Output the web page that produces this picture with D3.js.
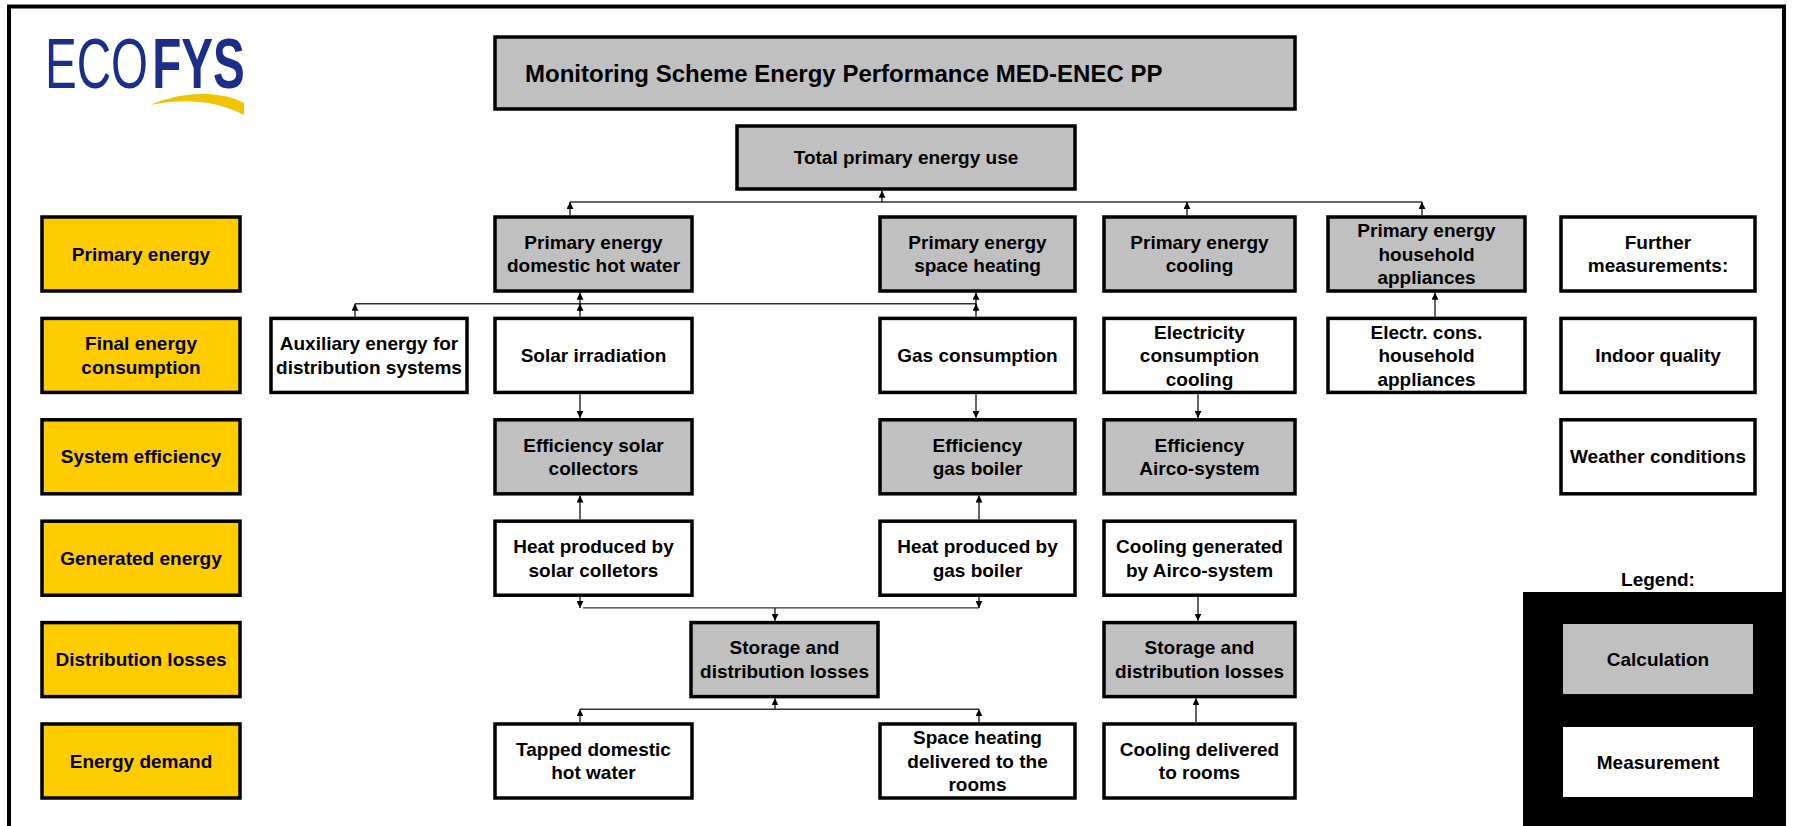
<!DOCTYPE html>
<html><head><meta charset="utf-8">
<script src="https://cdn.jsdelivr.net/npm/d3@7"></script>
<style>
body{margin:0;background:#fff}
svg{display:block}
text{font-family:"Liberation Sans",Arial,Helvetica,sans-serif;font-weight:bold;fill:#000}
</style>
</head><body>
<svg id="chart" width="1794" height="826"></svg>
<script>
// ---------------- DATA ----------------
const chartTitle = "Monitoring Scheme Energy Performance MED-ENEC PP";
const logoParts = ["ECO", "FYS"];
const rowLabels = ["Primary energy", "Final energy\nconsumption", "System efficiency",
  "Generated energy", "Distribution losses", "Energy demand"];
const columnKeys = ["category", "aux", "dhw", "storage", "sh", "cool", "hh", "extra"];
const totalBox = ["total", "Total primary energy use"];
// [id, row index, column, label]
const calculationBoxes = [
  ["pe_dhw", 0, "dhw", "Primary energy\ndomestic hot water"],
  ["pe_sh", 0, "sh", "Primary energy\nspace heating"],
  ["pe_cool", 0, "cool", "Primary energy\ncooling"],
  ["pe_hh", 0, "hh", "Primary energy\nhousehold\nappliances"],
  ["eff_solar", 2, "dhw", "Efficiency solar\ncollectors"],
  ["eff_gas", 2, "sh", "Efficiency\ngas boiler"],
  ["eff_airco", 2, "cool", "Efficiency\nAirco-system"],
  ["stor1", 4, "storage", "Storage and\ndistribution losses"],
  ["stor2", 4, "cool", "Storage and\ndistribution losses"]
];
const measurementBoxes = [
  ["further", 0, "extra", "Further\nmeasurements:"],
  ["aux", 1, "aux", "Auxiliary energy for\ndistribution systems"],
  ["solar", 1, "dhw", "Solar irradiation"],
  ["gas", 1, "sh", "Gas consumption"],
  ["elec_cool", 1, "cool", "Electricity\nconsumption\ncooling"],
  ["elec_hh", 1, "hh", "Electr. cons.\nhousehold\nappliances"],
  ["indoor", 1, "extra", "Indoor quality"],
  ["weather", 2, "extra", "Weather conditions"],
  ["heat_solar", 3, "dhw", "Heat produced by\nsolar colletors"],
  ["heat_gas", 3, "sh", "Heat produced by\ngas boiler"],
  ["cool_gen", 3, "cool", "Cooling generated\nby Airco-system"],
  ["tapped", 5, "dhw", "Tapped domestic\nhot water"],
  ["sh_deliv", 5, "sh", "Space heating\ndelivered to the\nrooms"],
  ["cool_deliv", 5, "cool", "Cooling delivered\nto rooms"]
];
// [id, gap below row index (-1 = below total box), from lane, to lane]
const buses = [
  ["bus1", -1, "dhwTop", "hhTop"],
  ["bus2", 0, "aux", "sh"],
  ["bus3", 3, "dhwBus", "shLow"],
  ["bus4", 4, "dhw", "shLow"]
];
// [from, to, lane, passes-through bus]
const arrows = [
  ["pe_dhw", "bus1", "dhwTop"],
  ["bus1", "total", "total"],
  ["pe_cool", "bus1", "coolTop"],
  ["pe_hh", "bus1", "hhTop"],
  ["aux", "bus2", "aux"],
  ["solar", "pe_dhw", "dhw", "bus2"],
  ["gas", "pe_sh", "sh", "bus2"],
  ["solar", "eff_solar", "dhw"],
  ["heat_solar", "eff_solar", "dhw"],
  ["gas", "eff_gas", "sh"],
  ["heat_gas", "eff_gas", "shLow"],
  ["elec_cool", "eff_airco", "cool"],
  ["elec_hh", "pe_hh", "hh"],
  ["heat_solar", "bus3", "dhw"],
  ["heat_gas", "bus3", "shLow"],
  ["bus3", "stor1", "storage"],
  ["cool_gen", "stor2", "cool"],
  ["tapped", "bus4", "dhw"],
  ["sh_deliv", "bus4", "shLow"],
  ["bus4", "stor1", "storage"],
  ["cool_deliv", "stor2", "coolLow"]
];
const legendTitle = "Legend:";
const legendLabels = ["Calculation", "Measurement"];

// ---------------- LAYOUT ----------------
const svg = d3.select("#chart");
const COL = {cat: "#FFCC00", calc: "#C0C0C0", meas: "#FFFFFF"};
const FS = 19, LH = 23.5, BW = 3.5;

const y = d3.scaleBand().domain(d3.range(rowLabels.length)).range([217, 798]).paddingInner(0.27).paddingOuter(0);
const xCol = d3.scaleOrdinal().domain(columnKeys).range([42, 271, 495, 691, 880, 1104, 1328, 1561]);
const wCol = d3.scaleOrdinal().domain(columnKeys).range([198, 196, 197, 187, 195, 191, 197, 194]);
const lane = d3.scaleOrdinal()
  .domain(["aux", "dhwTop", "dhw", "dhwBus", "storage", "total", "sh", "shLow", "coolTop", "coolLow", "cool", "hhTop", "hh"])
  .range([355, 570, 580, 583, 775, 882, 976, 979, 1187, 1196, 1198, 1422, 1435]);

// frame
svg.append("path").attr("d", "M9,840V6.5H1784V840").attr("fill", "none").attr("stroke", "#000").attr("stroke-width", 4);

// logo
const logo = svg.append("g");
logo.append("path")
  .attr("d", "M150,105 C176,94 214,88 244,103 L244,115 C216,100 182,98 150,105 Z")
  .attr("fill", "#F2C300");
const logoText = logo.append("text").attr("transform", "translate(45,88) scale(0.68,1)")
  .attr("font-size", 70).style("fill", "#1C2E8C");
logoText.append("tspan").style("font-weight", "normal").text(logoParts[0]);
logoText.append("tspan").attr("dx", 6).style("font-weight", "bold").text(logoParts[1]);

// title
svg.append("rect").attr("x", 495).attr("y", 37).attr("width", 800).attr("height", 72)
  .attr("fill", COL.calc).attr("stroke", "#000").attr("stroke-width", BW);
svg.append("text").attr("x", 525).attr("y", 82).attr("font-size", 24).text(chartTitle);

// node geometry
const nodes = new Map();
nodes.set(totalBox[0], {x: 737, y: 126, w: 338, h: 63, label: totalBox[1], fill: COL.calc});
rowLabels.forEach((l, i) => nodes.set("row" + i, {x: xCol("category"), y: y(i), w: wCol("category"), h: y.bandwidth(), label: l, fill: COL.cat}));
calculationBoxes.forEach(([id, r, c, l]) => nodes.set(id, {x: xCol(c), y: y(r), w: wCol(c), h: y.bandwidth(), label: l, fill: COL.calc}));
measurementBoxes.forEach(([id, r, c, l]) => nodes.set(id, {x: xCol(c), y: y(r), w: wCol(c), h: y.bandwidth(), label: l, fill: COL.meas}));

const busY = new Map();
buses.forEach(([id, gap]) => {
  const upperBottom = gap < 0 ? nodes.get("total").y + nodes.get("total").h : y(gap) + y.bandwidth();
  const lowerTop = y(gap + 1);
  busY.set(id, (upperBottom + lowerTop) / 2 - 1);
});

function drawLabel(g, cx, cy, label, size) {
  const lines = label.split("\n");
  lines.forEach((t, i) => g.append("text")
    .attr("x", cx).attr("y", cy + (i - (lines.length - 1) / 2) * LH)
    .attr("dy", "0.35em").attr("text-anchor", "middle").attr("font-size", size).text(t));
}

// boxes
const boxG = svg.append("g");
nodes.forEach((n) => {
  boxG.append("rect").attr("x", n.x).attr("y", n.y).attr("width", n.w).attr("height", n.h)
    .attr("fill", n.fill).attr("stroke", "#000").attr("stroke-width", BW);
  drawLabel(boxG, n.x + n.w / 2, n.y + n.h / 2, n.label, FS);
});

// arrow marker
svg.append("defs").append("marker").attr("id", "ah").attr("viewBox", "0 0 7 7")
  .attr("refX", 7).attr("refY", 3.5).attr("markerWidth", 7).attr("markerHeight", 7)
  .attr("markerUnits", "userSpaceOnUse").attr("orient", "auto")
  .append("path").attr("d", "M0,0L7,3.5L0,7Z").attr("fill", "#000");

const linkG = svg.append("g");
// buses
buses.forEach(([id, gap, a, b]) => {
  linkG.append("line").attr("x1", lane(a)).attr("x2", lane(b)).attr("y1", busY.get(id)).attr("y2", busY.get(id))
    .attr("stroke", "#333").attr("stroke-width", 1.4);
});

function ends(id) {
  if (busY.has(id)) { const v = busY.get(id); return {top: v, bottom: v, cy: v}; }
  const n = nodes.get(id);
  return {top: n.y - BW / 2, bottom: n.y + n.h + BW / 2, cy: n.y + n.h / 2};
}
arrows.forEach(([from, to, ln, via]) => {
  const A = ends(from), B = ends(to), x = lane(ln);
  const up = B.cy < A.cy;
  const y1 = up ? A.top : A.bottom, y2 = up ? B.bottom : B.top;
  linkG.append("line").attr("x1", x).attr("x2", x).attr("y1", y1).attr("y2", y2)
    .attr("stroke", "#111").attr("stroke-width", 1.3).attr("marker-end", "url(#ah)");
  if (via) {
    const vy = busY.get(via);
    linkG.append("line").attr("x1", x).attr("x2", x).attr("y1", vy + (up ? 8 : -8)).attr("y2", vy)
      .attr("stroke", "#111").attr("stroke-width", 1.3).attr("marker-end", "url(#ah)");
  }
});

// legend
const lg = svg.append("g");
lg.append("text").attr("x", 1658).attr("y", 586).attr("text-anchor", "middle").attr("font-size", FS).text(legendTitle);
lg.append("rect").attr("x", 1523).attr("y", 592).attr("width", 263).attr("height", 240).attr("fill", "#000");
const ly = d3.scaleBand().domain(legendLabels).range([624, 797]).paddingInner(0.32);
legendLabels.forEach((l, i) => {
  lg.append("rect").attr("x", 1563).attr("y", ly(l)).attr("width", 190).attr("height", ly.bandwidth())
    .attr("fill", i === 0 ? COL.calc : COL.meas);
  drawLabel(lg, 1658, ly(l) + ly.bandwidth() / 2, l, FS);
});
</script>
</body></html>
